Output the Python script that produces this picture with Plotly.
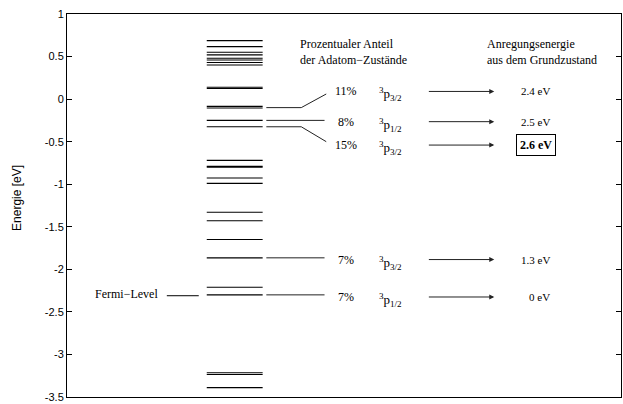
import plotly.graph_objects as go

# ---- data ----
levels = [0.687, 0.617, 0.55, 0.52, 0.48, 0.46, 0.43, 0.40, 0.14, 0.125,
          -0.085, -0.105, -0.25, -0.325, -0.72, -0.79, -0.80, -0.927, -0.99,
          -1.33, -1.43, -1.65, -1.865, -2.21, -2.30, -3.215, -3.235, -3.39]
fermi_level = -2.31
percent_labels = ["11%", "8%", "15%", "7%", "7%"]
state_labels = ["<sup>3</sup>p<sub>3/2</sub>", "<sup>3</sup>p<sub>1/2</sub>",
                "<sup>3</sup>p<sub>3/2</sub>", "<sup>3</sup>p<sub>3/2</sub>",
                "<sup>3</sup>p<sub>1/2</sub>"]
source_levels = [-0.10, -0.25, -0.325, -1.865, -2.30]
row_energy = [0.09, -0.265, -0.54, -1.885, -2.325]
excitation_labels = ["2.4 eV", "2.5 eV", "<b>2.6 eV</b>", "1.3 eV", "0 eV"]
ytick_vals = [1, 0.5, 0, -0.5, -1, -1.5, -2, -2.5, -3, -3.5]
ytick_text = ["1", "0.5", "0", "-0.5", "-1", "-1.5", "-2", "-2.5", "-3", "-3.5"]

# ---- layout constants (x in pixel-like units) ----
LX0, LX1 = 207, 263
serif = "Liberation Serif"
sans = "Liberation Sans"

fig = go.Figure()

xs, ys = [], []
for e in levels:
    xs += [LX0, LX1, None]
    ys += [e, e, None]
fig.add_trace(go.Scatter(x=xs, y=ys, mode="lines",
                         line=dict(color="black", width=1.1),
                         hoverinfo="skip", showlegend=False))

# Fermi level line
fig.add_trace(go.Scatter(x=[167, 199], y=[fermi_level, fermi_level], mode="lines",
                         line=dict(color="black", width=1), hoverinfo="skip",
                         showlegend=False))

# connectors
bends = [301.7, None, 301.7, None, None]
for src, row, b in zip(source_levels, row_energy, bends):
    if b is None:
        cx = [266.7, 325]
        cy = [src, src]
    else:
        end = row - 0.03 if row > src else row + 0.04
        cx = [266.7, b, 326.7]
        cy = [src, src, end]
    fig.add_trace(go.Scatter(x=cx, y=cy, mode="lines",
                             line=dict(color="#222", width=1),
                             hoverinfo="skip", showlegend=False))

ann = []
for i in range(5):
    r = row_energy[i]
    ann.append(dict(x=346, y=r, xref="x", yref="y", text=percent_labels[i],
                    showarrow=False, font=dict(family=serif, size=12, color="black")))
    ann.append(dict(x=378, y=r, xref="x", yref="y", text=state_labels[i],
                    showarrow=False, xanchor="left", yshift=-3,
                    font=dict(family=serif, size=13, color="black")))
    ann.append(dict(x=495, y=r, ax=428, ay=r, xref="x", yref="y", axref="x", ayref="y",
                    text="", showarrow=True, arrowhead=2, arrowsize=1, arrowwidth=1,
                    arrowcolor="#222"))
    boxed = "<b>" in excitation_labels[i]
    ann.append(dict(x=536.5 if i != 4 else 540, y=r, xref="x", yref="y",
                    text=excitation_labels[i], showarrow=False,
                    font=dict(family=serif, size=12 if boxed else 11, color="black"),
                    bordercolor="black" if boxed else None,
                    borderwidth=1 if boxed else 0, borderpad=3))

ann.append(dict(x=298, y=0.55, xref="x", yref="y", xanchor="left", align="left",
                text="Prozentualer Anteil<br>der Adatom\u2212Zustände", showarrow=False,
                font=dict(family=serif, size=12, color="black")))
ann.append(dict(x=486, y=0.55, xref="x", yref="y", xanchor="left", align="left",
                text="Anregungsenergie<br>aus dem Grundzustand", showarrow=False,
                font=dict(family=serif, size=12, color="black")))
ann.append(dict(x=160, y=fermi_level + 0.02, xref="x", yref="y", xanchor="right",
                text="Fermi\u2212Level", showarrow=False,
                font=dict(family=serif, size=12, color="black")))
ann.append(dict(x=(17 - 67) / 555, y=0.52, xref="paper", yref="paper",
                xanchor="center", yanchor="middle",
                text="Energie [eV]", textangle=-90,
                showarrow=False, font=dict(family=sans, size=12, color="black")))

fig.update_layout(
    width=623, height=404, autosize=False,
    margin=dict(l=67, r=1, t=14, b=3),
    paper_bgcolor="white", plot_bgcolor="white",
    annotations=ann,
    xaxis=dict(range=[67, 622], showgrid=False, zeroline=False, showticklabels=False,
               ticks="", showline=True, linecolor="black", linewidth=1, mirror=True,
               fixedrange=True),
    yaxis=dict(range=[-3.5, 1], showgrid=False, zeroline=False,
               tickvals=ytick_vals, ticktext=ytick_text, ticks="inside", ticklen=5,
               tickcolor="black", showline=True, linecolor="black", linewidth=1,
               mirror="ticks", tickfont=dict(family=sans, size=11, color="black"),
               ticklabeloverflow="allow", fixedrange=True),
)

fig.write_html("out.html", config={"displayModeBar": False, "responsive": False},
               post_script="document.body.style.margin='0';document.body.style.overflow='hidden';")
